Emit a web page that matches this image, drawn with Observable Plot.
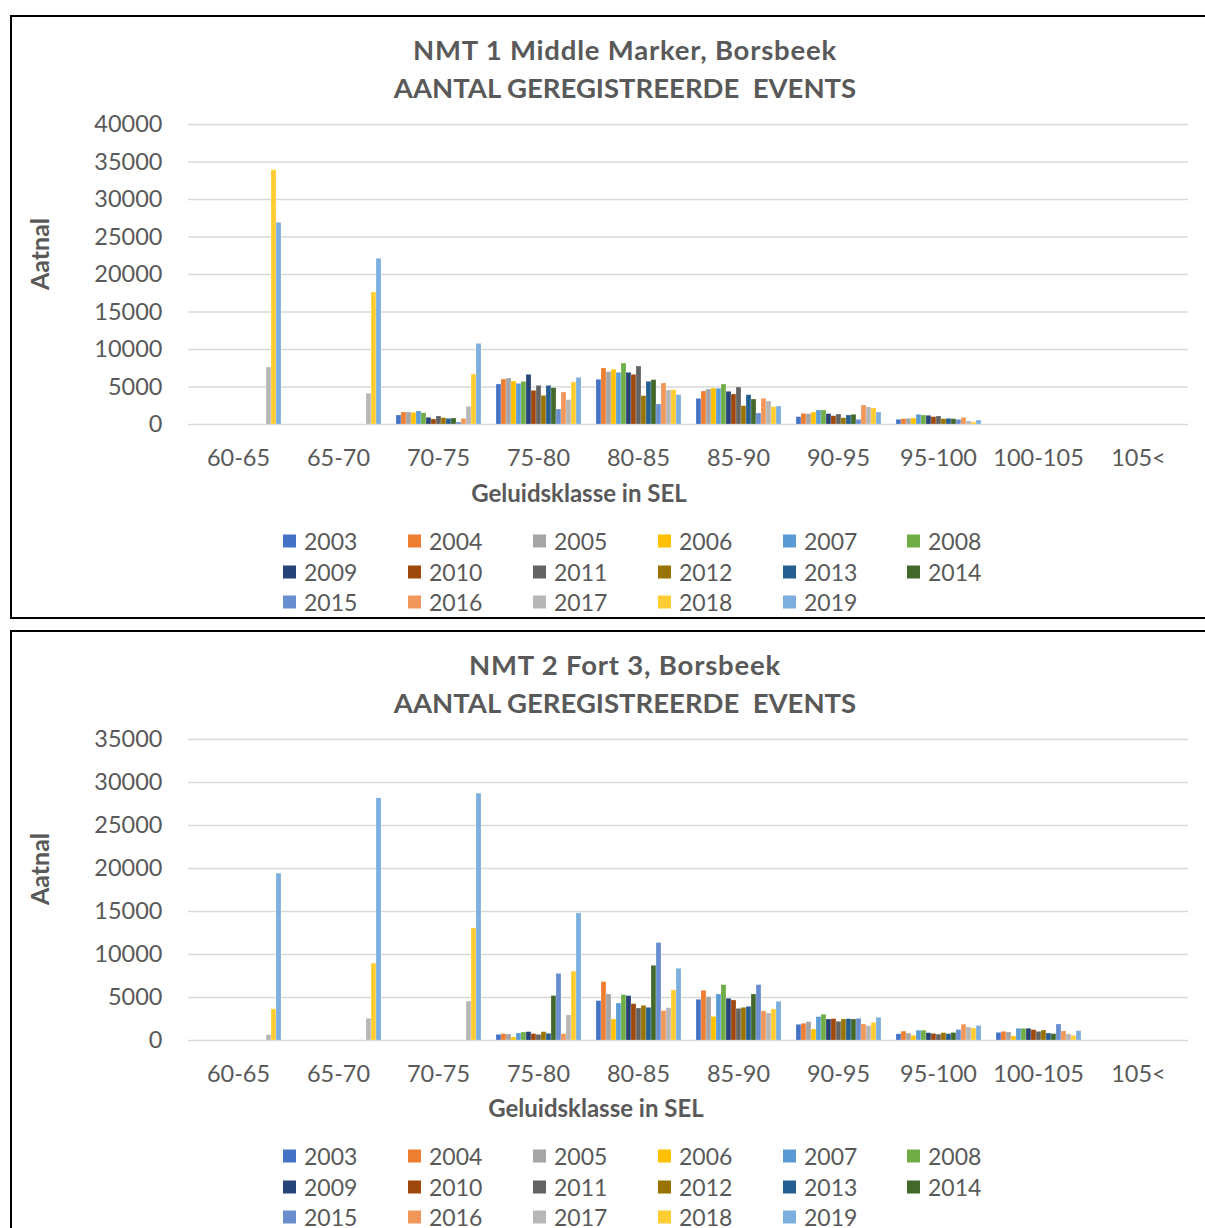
<!DOCTYPE html>
<html>
<head>
<meta charset="utf-8">
<script src="https://cdn.jsdelivr.net/npm/d3@7"></script>
<script src="https://cdn.jsdelivr.net/npm/@observablehq/plot@0.6"></script>
<style>
  html, body { margin: 0; padding: 0; background: #fff; }
  #page { position: relative; width: 1205px; height: 1228px; overflow: hidden; font-family: Lato, "Open Sans", sans-serif; color: #595959; }
  .box { position: absolute; border: 2px solid #000; box-sizing: border-box; background: #fff; }
  .title { position: absolute; left: 325px; width: 600px; text-align: center; font-weight: bold; font-size: 27.5px; white-space: pre; line-height: 1; transform: translateY(-50%); }
  .title.l1 { letter-spacing: 0.8px; }
  .xtitle { position: absolute; font-weight: bold; font-size: 24px; white-space: nowrap; line-height: 1; transform: translate(-50%, -50%); }
  .ytitle { position: absolute; font-weight: bold; font-size: 25px; white-space: nowrap; line-height: 1; transform: translate(-50%, -50%) rotate(-90deg); }
  .leg { position: absolute; font-size: 23px; line-height: 1; white-space: nowrap; transform: translateY(-50%); display: flex; align-items: center; }
  .leg span.sw { display: inline-block; width: 13px; height: 13px; margin-right: 8px; }
  .chart { position: absolute; left: 0; }
</style>
</head>
<body>
<div id="page"></div>
<script>
// ---- data ----
const categories = ["60-65","65-70","70-75","75-80","80-85","85-90","90-95","95-100","100-105","105<"];
const years = ["2003","2004","2005","2006","2007","2008","2009","2010","2011","2012","2013","2014","2015","2016","2017","2018","2019"];
const yearColors = ["#4472C4","#ED7D31","#A5A5A5","#FFC000","#5B9BD5","#70AD47","#264478","#9E480E","#636363","#997300","#255E91","#43682B","#698ED0","#F1975A","#B7B7B7","#FFCD33","#7CAFDD"];

// NMT 1 Middle Marker: one row per category, one value per year (2003..2019)
const nmt1Counts = [
  [0,0,0,0,0,0,0,0,0,0,0,0,0,0,7600,33900,26900],
  [0,0,0,0,0,0,0,0,0,0,0,0,0,0,4100,17600,22100],
  [1200,1600,1600,1550,1730,1510,890,670,1070,840,750,800,270,750,2350,6660,10750],
  [5330,6000,6130,5730,5420,5680,6620,4490,5150,3820,5150,4840,2000,4260,3240,5600,6220],
  [5960,7470,6980,7290,6890,8130,6890,6620,7730,3780,5690,5910,2670,5470,4530,4580,3910],
  [3420,4400,4670,4800,4760,5330,4360,4000,4930,2440,3910,3330,1470,3420,3070,2310,2400],
  [980,1420,1380,1600,1870,1870,1380,1110,1330,840,1200,1290,620,2530,2270,2130,1600],
  [620,710,760,800,1290,1200,1160,980,1070,710,760,710,620,890,400,270,530],
  [0,0,0,0,0,0,0,0,0,0,0,0,0,0,0,0,0],
  [0,0,0,0,0,0,0,0,0,0,0,0,0,0,0,0,0]
];
// NMT 2 Fort 3
const nmt2Counts = [
  [0,0,0,0,0,0,0,0,0,0,0,0,0,0,620,3620,19400],
  [0,0,0,0,0,0,0,0,0,0,0,0,0,0,2530,8940,28160],
  [0,0,0,0,0,0,0,0,0,0,0,0,0,0,4510,13030,28700],
  [660,740,700,350,820,930,970,740,660,970,780,5170,7740,740,2920,8010,14780],
  [4580,6790,5350,2440,4300,5270,5160,4230,3720,4030,3800,8690,11330,3410,3760,5820,8340],
  [4730,5780,5040,2750,5350,6440,4850,4650,3680,3800,3920,5350,6440,3380,3140,3610,4500],
  [1820,1940,2130,1280,2720,2990,2440,2480,2170,2440,2480,2440,2520,1860,1670,2060,2640],
  [720,1030,800,540,1140,1140,850,760,680,850,740,870,1220,1840,1510,1400,1690],
  [890,1010,930,470,1360,1360,1360,1200,1010,1160,810,740,1860,1050,700,540,1090],
  [0,0,0,0,0,0,0,0,0,0,0,0,0,0,0,0,0]
];
const nmt1Ticks = [0,5000,10000,15000,20000,25000,30000,35000,40000];
const nmt2Ticks = [0,5000,10000,15000,20000,25000,30000,35000];

const panels = [
  {title1: "NMT 1 Middle Marker, Borsbeek", title2: "AANTAL GEREGISTREERDE  EVENTS", counts: nmt1Counts, ticks: nmt1Ticks,
   off: 0, box: {top: 15, height: 604}, xtitleX: 579},
  {title1: "NMT 2 Fort 3, Borsbeek", title2: "AANTAL GEREGISTREERDE  EVENTS", counts: nmt2Counts, ticks: nmt2Ticks,
   off: 615, box: {top: 630, height: 640}, xtitleX: 596}
];

const page = document.getElementById("page");
function add(cls, text, style) {
  const d = document.createElement("div");
  d.className = cls;
  if (text != null) d.textContent = text;
  Object.assign(d.style, style);
  page.appendChild(d);
  return d;
}

for (const p of panels) {
  const o = p.off;
  add("box", null, {left: "10px", top: p.box.top + "px", width: "1210px", height: p.box.height + "px"});
  add("title l1", p.title1, {top: (50 + o) + "px"});
  add("title", p.title2, {top: (88 + o) + "px"});

  const rows = [];
  p.counts.forEach((row, ci) => row.forEach((v, yi) => rows.push({cat: categories[ci], year: years[yi], value: v})));
  const maxTick = p.ticks[p.ticks.length - 1];
  const svgTop = 100 + o, svgH = 380;
  const plotTop = o === 0 ? 124 : 739, base = o === 0 ? 424 : 1040;

  const chart = Plot.plot({
    width: 1205,
    height: svgH,
    marginLeft: 185,
    marginRight: 15,
    marginTop: plotTop - svgTop,
    marginBottom: svgTop + svgH - base,
    style: {fontFamily: "Lato, 'Open Sans', sans-serif", fontSize: "23.5px", color: "#595959", background: "transparent", overflow: "visible"},
    fx: {domain: categories, padding: 0, label: null, axis: "bottom", tickSize: 0, tickPadding: 25},
    x: {domain: years, paddingInner: 0, paddingOuter: 1.09, axis: null},
    y: {domain: [0, maxTick], ticks: p.ticks, tickFormat: d => String(d), tickSize: 0, tickPadding: 26, label: null},
    color: {domain: years, range: yearColors},
    marks: [
      Plot.gridY(p.ticks, {stroke: "#d9d9d9", strokeOpacity: 1, strokeWidth: 1.5}),
      Plot.barY(rows, {fx: "cat", x: "year", y: "value", fill: "year",
        stroke: d => d.value > 0 ? "#ffffff" : "none", strokeOpacity: 0.45, strokeWidth: 0.5})
    ]
  });
  chart.classList.add("chart");
  chart.style.top = svgTop + "px";
  page.appendChild(chart);

  add("xtitle", "Geluidsklasse in SEL", {left: p.xtitleX + "px", top: (493 + o) + "px"});
  add("ytitle", "Aatnal", {left: "39px", top: (254 + o) + "px"});

  const colX = [283, 408, 533, 658, 783, 907];
  const rowY = [541, 571.5, 602];
  years.forEach((yr, i) => {
    const el = add("leg", null, {left: colX[i % 6] + "px", top: (rowY[Math.floor(i / 6)] + o) + "px"});
    const sw = document.createElement("span");
    sw.className = "sw";
    sw.style.background = yearColors[i];
    el.appendChild(sw);
    el.appendChild(document.createTextNode(yr));
  });
}
</script>
</body>
</html>
